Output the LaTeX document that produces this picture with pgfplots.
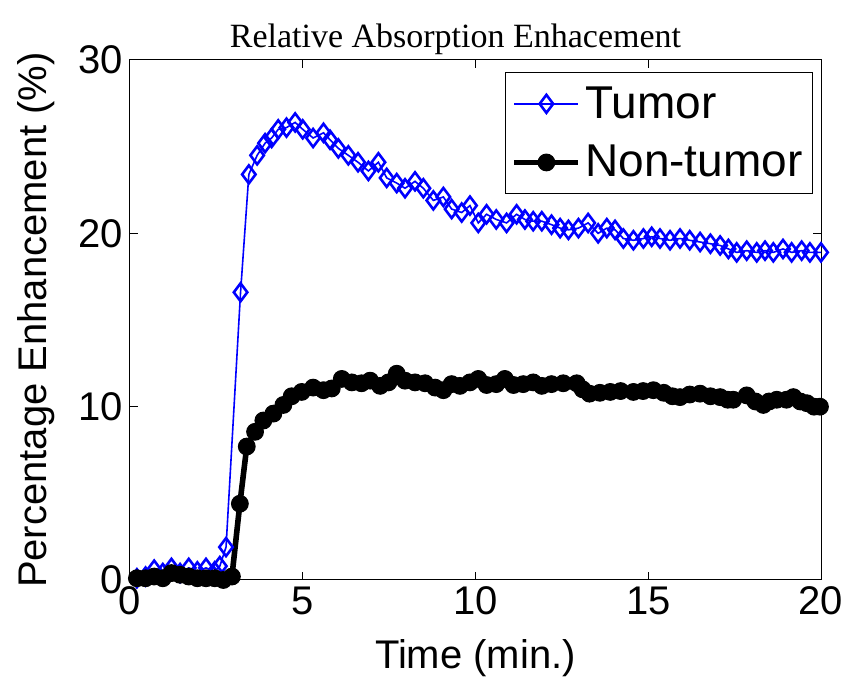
\documentclass[border=0pt]{standalone}
\usepackage{pgfplots}
\pgfplotsset{compat=1.18}
\usepackage{fontspec}
\setmainfont{Liberation Sans}
\newfontfamily\titlefont{Liberation Serif}
\begin{document}
\begin{tikzpicture}
\begin{axis}[
  scale only axis,
  width=345.5pt, height=260pt,
  xmin=0, xmax=20, ymin=0, ymax=30,
  xtick={0,5,10,15,20}, ytick={0,10,20,30},
  tick align=inside, major tick length=4pt,
  tick style={black, line width=0.5pt},
  axis line style={line width=0.5pt},
  /pgf/number format/assume math mode=true,
  ticklabel style={font=\fontsize{20}{22}\selectfont},
  xlabel={Time (min.)}, ylabel={Percentage Enhancement (\%)},
  label style={font=\fontsize{20}{22}\selectfont},
  xlabel style={yshift=-5pt},
  ylabel style={yshift=5pt},
  title={\titlefont\fontsize{17}{19}\selectfont Relative Absorption Enhacement},
  title style={yshift=-7pt, xshift=-10pt},
  clip=false,
  legend style={at={(1,1)}, anchor=north east, xshift=-4pt, yshift=-6pt,
    font=\fontsize{23}{25}\selectfont, draw=black, line width=0.5pt,
    inner xsep=3pt, inner ysep=5pt, row sep=8pt},
  legend cell align=left,
  legend image code/.code={\draw[#1] (0pt,0pt) -- (32pt,0pt); \draw[#1, only marks] plot coordinates {(16pt,0pt)};},
]
\addplot[blue, line width=0.8pt, mark=diamond, mark size=4.5pt, mark options={solid, fill=white, line width=1.3pt}] coordinates {
(0.20,0.1)(0.45,0.2)(0.70,0.6)(0.95,0.4)(1.20,0.7)(1.45,0.4)(1.70,0.7)(1.95,0.5)(2.20,0.7)(2.45,0.5)(2.60,0.8)(2.78,1.9)
(3.20,16.6)(3.44,23.4)(3.68,24.5)(3.91,25.2)(4.10,25.5)(4.29,26.0)(4.53,26.1)(4.78,26.4)(5.00,26.0)(5.30,25.5)
(5.60,25.8)(5.79,25.4)(6.03,24.9)(6.32,24.5)(6.60,24.1)(6.90,23.6)(7.19,24.1)(7.43,23.2)(7.72,22.9)(7.96,22.6)
(8.25,23.0)(8.49,22.6)(8.78,21.9)(9.07,22.1)(9.31,21.4)(9.60,21.2)(9.84,21.6)(10.08,20.6)(10.32,21.1)(10.60,20.8)
(10.90,20.6)(11.19,21.1)(11.43,20.8)(11.67,20.7)(11.92,20.7)(12.20,20.5)(12.45,20.3)(12.69,20.2)(12.98,20.3)(13.26,20.6)
(13.55,20.0)(13.80,20.3)(14.04,20.2)(14.28,19.7)(14.57,19.6)(14.86,19.7)(15.10,19.8)(15.34,19.7)(15.63,19.6)(15.92,19.7)
(16.20,19.6)(16.50,19.5)(16.80,19.4)(17.08,19.3)(17.32,19.1)(17.56,18.9)(17.85,19.0)(18.14,18.9)(18.38,19.0)(18.62,18.9)
(18.90,19.1)(19.15,18.9)(19.44,19.0)(19.68,18.9)(20.00,18.9)
};
\addlegendentry{Tumor}
\addplot[black, line width=2.8pt, mark=*, mark size=4.2pt, mark options={solid, line width=0.5pt}] coordinates {
(0.20,0.1)(0.45,0.1)(0.70,0.2)(0.95,0.1)(1.20,0.4)(1.45,0.3)(1.70,0.2)(1.95,0.1)(2.20,0.1)(2.45,0.1)(2.70,0.0)(2.95,0.2)
(3.18,4.4)(3.38,7.7)(3.62,8.55)(3.86,9.2)(4.15,9.6)(4.44,10.1)(4.68,10.6)(4.97,10.85)(5.30,11.1)(5.60,10.95)
(5.84,11.05)(6.13,11.6)(6.42,11.4)(6.70,11.35)(6.95,11.5)(7.24,11.2)(7.48,11.4)(7.72,11.9)(7.96,11.5)(8.25,11.4)
(8.54,11.35)(8.83,11.1)(9.07,10.95)(9.31,11.3)(9.55,11.2)(9.84,11.4)(10.08,11.6)(10.32,11.25)(10.60,11.3)(10.85,11.6)
(11.10,11.25)(11.38,11.3)(11.67,11.4)(11.92,11.2)(12.20,11.3)(12.54,11.35)(12.93,11.35)(13.10,11.0)(13.30,10.75)(13.60,10.8)
(13.90,10.85)(14.20,10.9)(14.57,10.85)(14.85,10.9)(15.15,10.95)(15.45,10.8)(15.70,10.6)(15.92,10.55)(16.20,10.7)(16.50,10.75)
(16.80,10.6)(17.08,10.55)(17.30,10.4)(17.46,10.4)(17.85,10.65)(18.10,10.3)(18.33,10.1)(18.50,10.3)(18.72,10.4)(19.00,10.4)
(19.20,10.55)(19.40,10.3)(19.59,10.2)(19.80,10.0)(19.97,10.0)
};
\addlegendentry{Non-tumor}
\end{axis}
\pgfresetboundingbox
\path (current axis.south west) ++(-65pt,-55pt) coordinate (bl);
\path (current axis.north east) ++(15.5pt,30pt) coordinate (tr);
\path (bl) rectangle (tr);
\end{tikzpicture}
\end{document}
